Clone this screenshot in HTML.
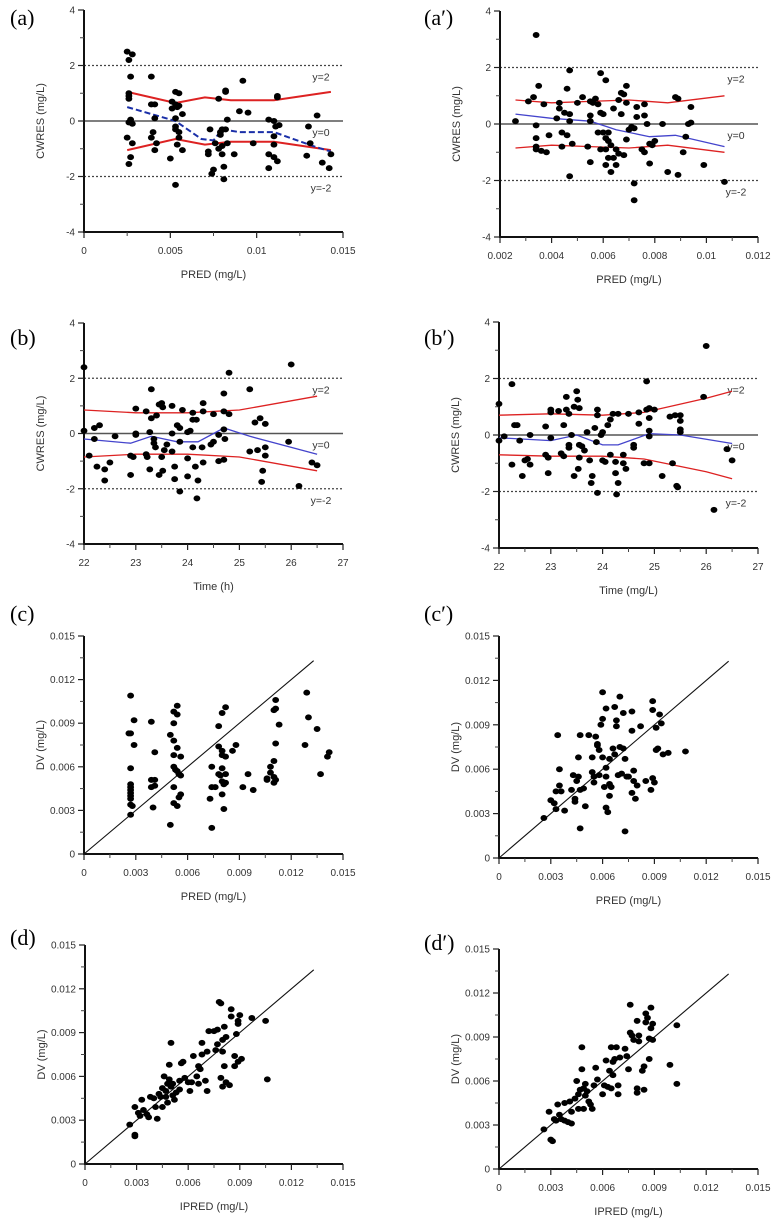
<!DOCTYPE html>
<html><head><meta charset="utf-8">
<style>
html,body{margin:0;padding:0;background:#fff;}
svg{display:block;}
text{font-family:"Liberation Sans",sans-serif;fill:#333;}
.pl{font-family:"Liberation Serif",serif;fill:#000;font-size:22px;}
</style></head>
<body>
<svg id="fig" width="780" height="1232" viewBox="0 0 780 1232"></svg>
<script>
// ---- data ----
const aPts=[[.0025,2.5],[.0026,2.2],[.0028,2.4],[.0027,1.6],[.0026,.9],[.0026,.8],[.0026,1.0],[.0026,-.05],[.0027,.05],[.0028,-.1],[.0025,-.6],[.0027,-1.3],[.0026,-1.55],[.0028,-.8],
[.0039,1.6],[.0039,.6],[.0039,-.6],[.0040,-.4],[.0041,.6],[.0041,.1],[.0041,-1.05],[.0042,-.8],
[.0050,-1.35],[.0051,.7],[.0051,.45],[.0053,1.05],[.0053,.6],[.0053,.1],[.0053,-.2],[.0053,-.3],[.0054,-.85],[.0053,-2.3],[.0054,.5],[.0055,1.0],[.0055,.55],[.0055,-.6],[.0055,-.4],[.0057,.25],[.0057,-1.05],
[.0072,-1.1],[.0072,-1.2],[.0073,-.3],[.0074,-1.9],[.0075,-1.75],[.0076,-.8],[.0078,.8],[.0078,-1.0],[.0079,-.4],[.0079,-.5],[.0080,-.3],[.0080,-.9],[.0080,-1.2],[.0081,-1.65],[.0081,-2.1],[.0082,1.1],[.0082,1.05],[.0082,-.3],[.0083,.05],[.0083,-.8],[.0087,-1.2],[.0090,.35],[.0092,1.45],[.0095,.3],[.0098,-.8],
[.0107,-1.2],[.0107,-1.7],[.0107,.05],[.0110,0],[.0110,-.55],[.0110,-.85],[.0110,-1.3],[.0111,-.2],[.0112,.85],[.0112,.9],[.0112,-1.45],[.0113,-.15],[.0130,-.2],[.0129,-1.25],[.0131,-.8],[.0135,.2],[.0138,-1.5],[.0142,-1.7],[.0143,-1.2]];
const aUpper=[[.0025,1.05],[.0053,.65],[.007,.85],[.0085,.75],[.011,.75],[.0143,1.05]];
const aLower=[[.0025,-1.05],[.0053,-.65],[.007,-.85],[.0085,-.75],[.011,-.75],[.0143,-1.05]];
const aMean=[[.0025,.5],[.0053,0],[.0068,-.65],[.0075,-.7],[.008,-.3],[.009,-.4],[.011,-.4],[.0135,-.95],[.0143,-1.1]];

const a2Pts=[[.0026,.1],[.0031,.8],[.0033,.95],[.0034,3.15],[.0034,-.05],[.0034,-.5],[.0034,-.8],[.0034,-.9],[.0035,1.35],[.0036,-.95],[.0037,.7],[.0038,-1.0],[.0039,-.4],[.0042,.2],[.0043,.75],[.0043,.55],[.0044,-.3],[.0044,-.8],[.0045,.4],[.0046,-.4],[.0046,1.25],[.0047,.35],[.0047,.1],[.0047,1.9],[.0047,-1.85],[.0048,-.7],[.0050,.75],[.0052,.95],[.0054,-.8],[.0055,.8],[.0055,.3],[.0055,.1],[.0055,-1.35],[.0056,.75],[.0057,.9],[.0058,.7],[.0058,-.3],[.0059,.4],[.0059,1.8],[.0059,-.9],[.0060,.35],[.0060,-.3],[.0061,1.55],[.0061,-.5],[.0061,-.9],[.0061,-1.45],[.0062,-.3],[.0062,-.6],[.0062,-1.2],[.0063,-1.7],[.0063,-.75],[.0064,.55],[.0064,-1.2],[.0065,-.9],[.0065,-1.45],[.0066,.85],[.0066,-1.05],[.0067,1.1],[.0067,.35],[.0068,1.05],[.0068,-1.1],[.0069,.75],[.0069,1.35],[.0069,-.55],[.0070,-.2],[.0071,-.1],[.0072,-.15],[.0072,-2.1],[.0072,-2.7],[.0073,.25],[.0073,.6],[.0075,-.9],[.0076,.3],[.0076,.7],[.0076,-1.0],[.0077,0],[.0078,-1.4],[.0078,-.7],[.0079,-.75],[.0080,-.6],[.0083,0],[.0085,-1.7],[.0088,.95],[.0089,.9],[.0089,-1.8],[.0091,-1.0],[.0092,-.45],[.0093,0],[.0094,.05],[.0094,.6],[.0099,-1.45],[.0107,-2.05]];
const a2Upper=[[.0026,.85],[.004,.75],[.0055,.8],[.007,.85],[.0085,.75],[.0107,1.0]];
const a2Lower=[[.0026,-.85],[.004,-.75],[.0055,-.8],[.007,-.85],[.0085,-.75],[.0107,-1.0]];
const a2Mean=[[.0026,.35],[.004,.2],[.0055,.1],[.0065,-.2],[.0078,-.45],[.0088,-.4],[.0107,-.8]];

const bPts=[[22,2.4],[22,.1],[22.1,-.8],[22.2,.2],[22.2,-.2],[22.25,-1.2],[22.3,.3],[22.4,-1.3],[22.4,-1.7],[22.5,-1.05],[22.6,-.1],[22.9,-.8],[22.9,-1.5],[22.95,-.85],[23,.9],[23,0],[23,-.05],[23.2,.8],[23.2,-.75],[23.22,-.85],[23.3,1.6],[23.3,.55],[23.27,-1.3],[23.27,.05],[23.35,-.2],[23.35,-.35],[23.4,.65],[23.38,-.5],[23.45,1.05],[23.45,-1.5],[23.5,1.1],[23.52,.95],[23.5,-.85],[23.52,-1.35],[23.55,-.6],[23.6,-.4],[23.7,1.0],[23.7,0],[23.7,-.65],[23.75,-1.2],[23.75,-1.65],[23.8,.3],[23.85,.2],[23.85,-.3],[23.85,-2.1],[23.9,.85],[24,.05],[24,-.9],[24,-1.55],[24.05,.1],[24.1,.5],[24.1,.75],[24.1,-.5],[24.17,.5],[24.15,-1.2],[24.2,-1.7],[24.18,-2.35],[24.3,1.1],[24.3,.8],[24.28,-.5],[24.3,-1.05],[24.45,-.4],[24.5,.7],[24.5,-.3],[24.6,-1.0],[24.6,-.05],[24.7,1.45],[24.7,.8],[24.7,.15],[24.72,-.2],[24.7,-.95],[24.8,2.2],[24.8,.7],[25.2,1.6],[25.2,-.65],[25.3,.4],[25.4,.55],[25.35,-.6],[25.5,.35],[25.5,-.5],[25.5,-.8],[25.45,-1.35],[25.43,-1.75],[25.95,-.3],[26,2.5],[26.15,-1.9],[26.4,-1.05],[26.5,-1.15]];
const bUpper=[[22,.85],[23,.75],[24,.75],[25,.85],[26.5,1.35]];
const bLower=[[22,-.85],[23,-.75],[24,-.75],[25,-.85],[26.5,-1.35]];
const bMean=[[22,-.2],[22.9,-.35],[23.3,-.1],[23.8,-.3],[24.2,-.3],[24.7,.2],[25.2,-.1],[26.5,-.75]];

const b2Pts=[[22,1.1],[22,-.2],[22.1,-.05],[22.25,1.8],[22.25,-1.05],[22.3,.35],[22.35,.35],[22.4,-.2],[22.45,-1.45],[22.5,-.9],[22.55,-.85],[22.6,-1.05],[22.6,0],[22.9,.3],[22.9,-.7],[22.95,-.8],[22.95,-1.35],[23,.9],[23,.8],[23,-.1],[23.15,.85],[23.2,-.65],[23.25,-.75],[23.25,.35],[23.3,1.35],[23.3,.9],[23.35,.75],[23.35,-.35],[23.35,-.45],[23.4,0],[23.45,1.0],[23.45,-1.45],[23.5,1.55],[23.52,1.25],[23.55,.95],[23.55,-.35],[23.55,-.8],[23.53,-1.2],[23.6,-.4],[23.65,-.55],[23.7,.1],[23.75,-.9],[23.8,-1.45],[23.78,-1.7],[23.85,.25],[23.9,.9],[23.9,.7],[23.88,-.25],[23.9,-2.05],[24,.1],[23.97,0],[24,-.9],[24.05,-.95],[24.1,.35],[24.15,.55],[24.2,.75],[24.15,-.7],[24.25,-.95],[24.25,-1.35],[24.3,-1.7],[24.27,-2.1],[24.3,.75],[24.4,-.7],[24.4,-1.0],[24.45,-1.2],[24.5,.75],[24.6,-.35],[24.6,-.45],[24.7,.4],[24.7,.8],[24.8,-1.0],[24.85,.9],[24.9,.95],[24.9,.6],[24.9,.15],[24.9,-.05],[24.9,-1.0],[24.85,1.9],[25,.9],[25.15,-1.45],[25.3,.65],[25.4,.7],[25.5,.7],[25.35,-1.0],[25.43,-1.8],[25.45,-1.85],[25.5,.5],[25.5,.2],[25.5,.1],[25.95,1.35],[26,3.15],[26.15,-2.65],[26.4,-.5],[26.5,-.9]];
const b2Upper=[[22,.7],[23,.75],[24,.7],[24.8,.8],[26,1.3],[26.5,1.55]];
const b2Lower=[[22,-.7],[23,-.75],[24,-.75],[24.8,-.85],[26,-1.3],[26.5,-1.55]];
const b2Mean=[[22,-.1],[23,-.2],[23.5,0],[24,-.35],[24.3,-.35],[24.9,.05],[25.5,0],[26.5,-.3]];

const cPts=[[.0027,.0109],[.0026,.0083],[.0027,.0083],[.0027,.0059],[.0027,.0048],[.0027,.0046],[.0027,.0044],[.0027,.0042],[.0027,.0040],[.0027,.0038],[.0027,.0034],[.0028,.0033],[.0027,.0027],[.0029,.0092],[.0029,.0075],
[.0039,.0091],[.0039,.0051],[.0039,.0046],[.0040,.0032],[.0041,.0070],[.0041,.0051],[.0041,.0047],
[.0050,.0082],[.0050,.0020],[.0052,.0098],[.0052,.0090],[.0052,.0078],[.0052,.0068],[.0052,.0060],[.0053,.0058],[.0052,.0046],[.0052,.0035],[.0054,.0102],[.0054,.0096],[.0054,.0073],[.0054,.0057],[.0055,.0055],[.0054,.0033],[.0056,.0067],[.0056,.0054],[.0056,.0041],[.0055,.0039],
[.0073,.0038],[.0074,.0060],[.0074,.0046],[.0074,.0018],[.0076,.0046],[.0078,.0088],[.0078,.0074],[.0078,.0055],[.0079,.0054],[.0080,.0097],[.0080,.0071],[.0080,.0068],[.0080,.0059],[.0080,.0050],[.0080,.0041],[.0081,.0031],[.0082,.0101],[.0082,.0067],[.0082,.0055],[.0082,.0049],[.0081,.0048],[.0086,.0071],[.0088,.0075],[.0092,.0046],[.0095,.0055],[.0098,.0044],
[.0106,.0052],[.0106,.0051],[.0108,.0060],[.0108,.0056],[.0110,.0099],[.0110,.0064],[.0110,.0053],[.0110,.0049],[.0111,.0106],[.0111,.0100],[.0111,.0076],[.0111,.0051],[.0113,.0089],
[.0128,.0075],[.0129,.0111],[.0130,.0094],[.0135,.0086],[.0137,.0055],[.0141,.0067],[.0142,.0070]];

const c2Pts=[[.0026,.0027],[.0030,.0039],[.0032,.0037],[.0033,.0045],[.0033,.0033],[.0034,.0083],[.0035,.0060],[.0035,.0049],[.0036,.0045],[.0038,.0032],[.0042,.0046],[.0043,.0056],[.0044,.0040],[.0044,.0038],[.0045,.0052],[.0046,.0055],[.0046,.0068],[.0047,.0083],[.0047,.0046],[.0047,.0020],[.0049,.0047],[.0050,.0035],[.0052,.0083],[.0054,.0068],[.0054,.0058],[.0055,.0055],[.0055,.0051],[.0056,.0082],[.0057,.0077],[.0057,.0076],[.0058,.0073],[.0058,.0056],[.0059,.0090],[.0060,.0112],[.0060,.0094],[.0060,.0068],[.0061,.0048],[.0062,.0101],[.0062,.0061],[.0062,.0055],[.0062,.0034],[.0063,.0031],[.0064,.0067],[.0064,.0050],[.0064,.0042],[.0065,.0048],[.0066,.0074],[.0067,.0102],[.0067,.0070],[.0068,.0093],[.0068,.0089],[.0069,.0056],[.0070,.0109],[.0070,.0075],[.0071,.0057],[.0072,.0098],[.0072,.0074],[.0073,.0067],[.0073,.0018],[.0074,.0055],[.0075,.0055],[.0077,.0044],[.0077,.0099],[.0077,.0086],[.0078,.0059],[.0078,.0052],[.0079,.0040],[.0080,.0049],[.0082,.0089],[.0085,.0052],[.0088,.0046],[.0089,.0106],[.0089,.0100],[.0089,.0054],[.0090,.0051],[.0091,.0073],[.0091,.0088],[.0092,.0074],[.0093,.0097],[.0094,.0091],[.0095,.0070],[.0098,.0071],[.0108,.0072]];

const dPts=[[.0026,.0027],[.0029,.0039],[.0029,.0020],[.0029,.0019],[.0031,.0035],[.0032,.0033],[.0033,.0044],[.0034,.0037],[.0036,.0034],[.0037,.0032],[.0038,.0046],[.0040,.0045],[.0041,.0039],[.0042,.0031],[.0043,.0048],[.0044,.0046],[.0045,.0052],[.0045,.0039],[.0046,.0060],[.0047,.0050],[.0047,.0046],[.0048,.0055],[.0048,.0042],[.0049,.0058],[.0049,.0068],[.0050,.0083],[.0050,.0053],[.0051,.0047],[.0051,.0055],[.0052,.0044],[.0053,.0049],[.0055,.0051],[.0055,.0057],[.0056,.0069],[.0057,.0070],[.0058,.0059],[.0060,.0056],[.0061,.0050],[.0062,.0056],[.0063,.0074],[.0065,.0060],[.0066,.0067],[.0066,.0055],[.0067,.0065],[.0068,.0083],[.0068,.0075],[.0070,.0057],[.0071,.0077],[.0071,.0050],[.0072,.0091],[.0075,.0091],[.0076,.0078],[.0077,.0082],[.0077,.0092],[.0078,.0111],[.0079,.0110],[.0079,.0059],[.0080,.0085],[.0080,.0077],[.0080,.0053],[.0081,.0067],[.0081,.0094],[.0082,.0087],[.0082,.0056],[.0084,.0054],[.0085,.0106],[.0085,.0101],[.0087,.0074],[.0087,.0067],[.0088,.0089],[.0089,.0098],[.0089,.0096],[.0089,.0070],[.0090,.0102],[.0091,.0072],[.0097,.0100],[.0105,.0098],[.0106,.0058]];

const d2Pts=[[.0026,.0027],[.0029,.0039],[.0030,.0020],[.0031,.0019],[.0032,.0034],[.0033,.0033],[.0034,.0044],[.0035,.0037],[.0036,.0034],[.0038,.0045],[.0038,.0033],[.0040,.0032],[.0041,.0046],[.0042,.0031],[.0042,.0039],[.0044,.0048],[.0045,.0060],[.0046,.0051],[.0046,.0041],[.0047,.0054],[.0048,.0068],[.0048,.0083],[.0049,.0055],[.0049,.0041],[.0050,.0058],[.0050,.0050],[.0051,.0053],[.0052,.0046],[.0053,.0044],[.0054,.0041],[.0055,.0057],[.0056,.0069],[.0057,.0061],[.0060,.0051],[.0061,.0057],[.0062,.0074],[.0063,.0056],[.0064,.0067],[.0065,.0083],[.0065,.0055],[.0066,.0064],[.0066,.0073],[.0067,.0075],[.0068,.0083],[.0069,.0057],[.0069,.0051],[.0070,.0076],[.0073,.0082],[.0074,.0077],[.0075,.0068],[.0076,.0112],[.0076,.0093],[.0077,.0091],[.0078,.0088],[.0080,.0101],[.0080,.0055],[.0080,.0052],[.0081,.0091],[.0081,.0087],[.0083,.0067],[.0084,.0070],[.0084,.0054],[.0085,.0106],[.0085,.0100],[.0086,.0103],[.0087,.0075],[.0087,.0089],[.0088,.0096],[.0088,.0110],[.0089,.0099],[.0089,.0088],[.0099,.0071],[.0103,.0098],[.0103,.0058]];

const resTicks=[-4,-2,0,2,4];
const resTickLabels=["-4","-2","0","2","4"];
const concTicks=[0,.003,.006,.009,.012,.015];
const concTickLabels=["0","0.003","0.006","0.009","0.012","0.015"];
const aXTicks=[0,.005,.01,.015];
const aXTickLabels=["0","0.005","0.01","0.015"];
const a2XTicks=[.002,.004,.006,.008,.01,.012];
const a2XTickLabels=["0.002","0.004","0.006","0.008","0.01","0.012"];
const timeTicks=[22,23,24,25,26,27];
const timeTickLabels=["22","23","24","25","26","27"];
const refLines=[2,0,-2];
const refLabels=["y=2","y=0","y=-2"];

// ---- rendering ----
const NS="http://www.w3.org/2000/svg";
const svg=document.getElementById('fig');
function el(tag,attrs,parent,txt){const e=document.createElementNS(NS,tag);for(const k in attrs)e.setAttribute(k,attrs[k]);if(txt!==undefined)e.textContent=txt;(parent||svg).appendChild(e);return e;}

function panel(p){
  const g=el('g',{});
  
  
  const sx=v=>p.L+(v-p.x0)/(p.x1-p.x0)*(p.R-p.L);
  const sy=v=>p.B-(v-p.y0)/(p.y1-p.y0)*(p.B-p.T);
  // panel label
  const lab=el('text',{x:p.lx,y:p.ly,class:'pl'},g,p.label);
  
  
  // reference lines
  if(p.res){
    refLines.forEach((v,i)=>{
      const ln=el('line',{x1:p.L,x2:p.R,y1:sy(v),y2:sy(v),stroke:v===0?'#555':'#444','stroke-width':v===0?1.5:1.2,'stroke-dasharray':v===0?'none':'2,2'},g);
      
      
      const t=el('text',{x:p.R-22,y:sy(v)+15,'font-size':10.5,'text-anchor':'middle'},g,refLabels[i]);
      
      
    });
  } else {
    const ln=el('line',{x1:sx(0),y1:sy(0),x2:sx(.0133),y2:sy(.0133),stroke:'#111','stroke-width':1.1},g);
    
    
  }
  // axes
  const ax=el('path',{d:`M${p.L},${p.T}V${p.B}H${p.R}`,fill:'none',stroke:'#111','stroke-width':2},g);
  
  
  // y ticks
  p.yt.forEach((v,i)=>{
    el('line',{x1:p.L-6,x2:p.L,y1:sy(v),y2:sy(v),stroke:'#222','stroke-width':1.2},g);
    if(i<p.yt.length-1){const m=(v+p.yt[i+1])/2;el('line',{x1:p.L-4,x2:p.L,y1:sy(m),y2:sy(m),stroke:'#444','stroke-width':1},g);}
    const t=el('text',{x:p.L-9,y:sy(v)+3.5,'font-size':10,'text-anchor':'end'},g,p.ytl[i]);
    
    
  });
  p.xt.forEach((v,i)=>{
    el('line',{x1:sx(v),x2:sx(v),y1:p.B,y2:p.B+6,stroke:'#222','stroke-width':1.2},g);
    if(i<p.xt.length-1){const m=(v+p.xt[i+1])/2;el('line',{x1:sx(m),x2:sx(m),y1:p.B,y2:p.B+4,stroke:'#444','stroke-width':1},g);}
    const t=el('text',{x:sx(v),y:p.B+22,'font-size':10,'text-anchor':'middle'},g,p.xtl[i]);
    
    
  });
  const xt=el('text',{x:(p.L+p.R)/2,y:p.B+46,'font-size':11,'text-anchor':'middle'},g,p.xtitle);
  
  
  const cy=(p.T+p.B)/2;
  const yt=el('text',{x:p.L-40,y:cy,'font-size':11,'text-anchor':'middle',transform:`rotate(-90 ${p.L-40} ${cy})`},g,p.ytitle);
  
  
  // smooth lines
  const path=(pts)=>pts.map((q,i)=>(i?'L':'M')+sx(q[0]).toFixed(1)+','+sy(q[1]).toFixed(1)).join('');
  if(p.upper){
    const u=el('path',{d:path(p.upper),fill:'none',stroke:'#d22','stroke-width':p.thick?2:1.3},g);
    
    
    const lo=el('path',{d:path(p.lower),fill:'none',stroke:'#d22','stroke-width':p.thick?2:1.3},g);
    
    
    const mn=el('path',{d:path(p.mean),fill:'none',stroke:p.thick?'#1a2fa8':'#44c','stroke-width':p.thick?2:1.3,'stroke-dasharray':p.thick?'6,3':'none'},g);
    
    
  }
  p.pts.forEach(q=>{
    const c=el('ellipse',{cx:sx(q[0]),cy:sy(q[1]),rx:3.4,ry:3,fill:'#000'},g);
    
    
  });
}

panel({name:'panel-a',label:'(a)',lx:10,ly:25,L:84,R:343,T:10,B:232,x0:0,x1:.015,y0:-4,y1:4,xt:aXTicks,xtl:aXTickLabels,yt:resTicks,ytl:resTickLabels,xtitle:'PRED (mg/L)',ytitle:'CWRES (mg/L)',res:true,pts:aPts,upper:aUpper,lower:aLower,mean:aMean,thick:true});
panel({name:'panel-a-prime',label:'(a′)',lx:424,ly:25,L:500,R:758,T:11,B:237,x0:.002,x1:.012,y0:-4,y1:4,xt:a2XTicks,xtl:a2XTickLabels,yt:resTicks,ytl:resTickLabels,xtitle:'PRED (mg/L)',ytitle:'CWRES (mg/L)',res:true,pts:a2Pts,upper:a2Upper,lower:a2Lower,mean:a2Mean});
panel({name:'panel-b',label:'(b)',lx:10,ly:345,L:84,R:343,T:323,B:544,x0:22,x1:27,y0:-4,y1:4,xt:timeTicks,xtl:timeTickLabels,yt:resTicks,ytl:resTickLabels,xtitle:'Time (h)',ytitle:'CWRES (mg/L)',res:true,pts:bPts,upper:bUpper,lower:bLower,mean:bMean});
panel({name:'panel-b-prime',label:'(b′)',lx:424,ly:345,L:499,R:758,T:322,B:548,x0:22,x1:27,y0:-4,y1:4,xt:timeTicks,xtl:timeTickLabels,yt:resTicks,ytl:resTickLabels,xtitle:'Time (mg/L)',ytitle:'CWRES (mg/L)',res:true,pts:b2Pts,upper:b2Upper,lower:b2Lower,mean:b2Mean});
panel({name:'panel-c',label:'(c)',lx:10,ly:621,L:84,R:343,T:636,B:854,x0:0,x1:.015,y0:0,y1:.015,xt:concTicks,xtl:concTickLabels,yt:concTicks,ytl:concTickLabels,xtitle:'PRED (mg/L)',ytitle:'DV (mg/L)',res:false,pts:cPts});
panel({name:'panel-c-prime',label:'(c′)',lx:424,ly:621,L:499,R:758,T:636,B:858,x0:0,x1:.015,y0:0,y1:.015,xt:concTicks,xtl:concTickLabels,yt:concTicks,ytl:concTickLabels,xtitle:'PRED (mg/L)',ytitle:'DV (mg/L)',res:false,pts:c2Pts});
panel({name:'panel-d',label:'(d)',lx:10,ly:945,L:85,R:343,T:945,B:1164,x0:0,x1:.015,y0:0,y1:.015,xt:concTicks,xtl:concTickLabels,yt:concTicks,ytl:concTickLabels,xtitle:'IPRED (mg/L)',ytitle:'DV (mg/L)',res:false,pts:dPts});
panel({name:'panel-d-prime',label:'(d′)',lx:424,ly:950,L:499,R:758,T:949,B:1169,x0:0,x1:.015,y0:0,y1:.015,xt:concTicks,xtl:concTickLabels,yt:concTicks,ytl:concTickLabels,xtitle:'IPRED (mg/L)',ytitle:'DV (mg/L)',res:false,pts:d2Pts});
</script>
</body></html>
